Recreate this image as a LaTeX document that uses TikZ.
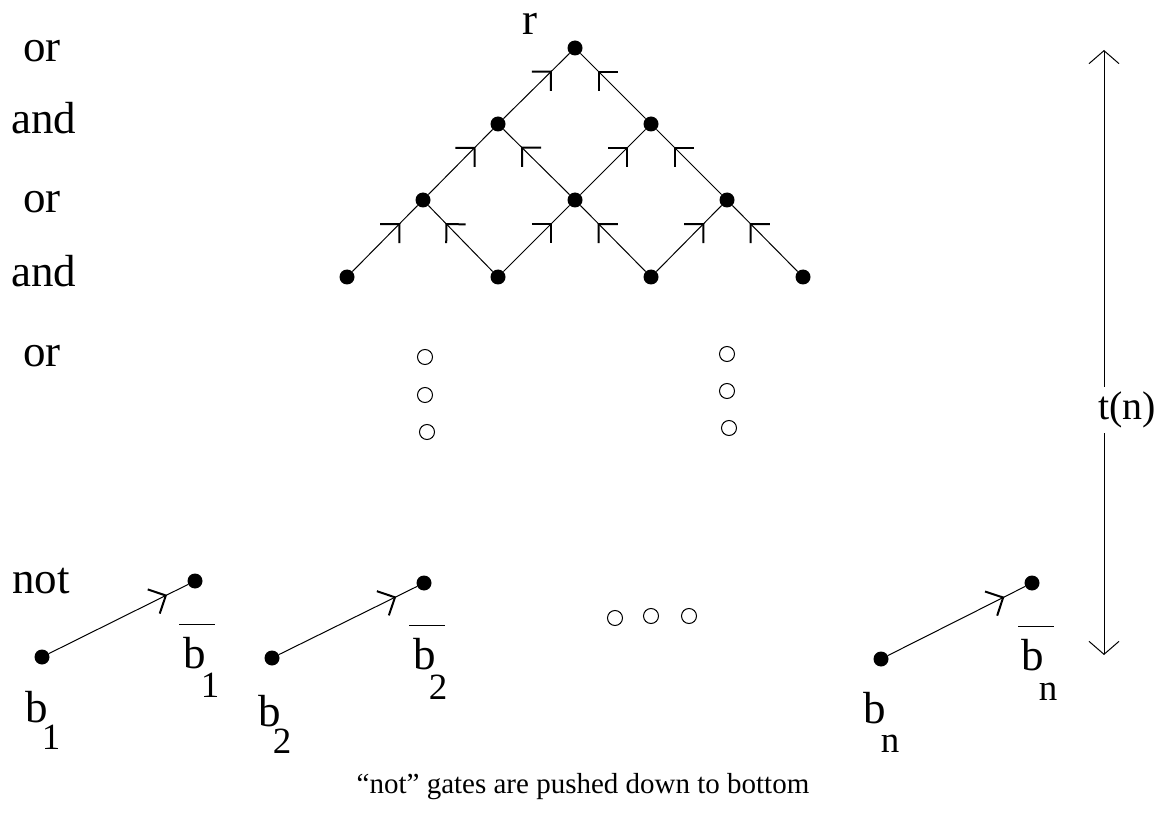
\documentclass[tikz,border=0pt]{standalone}
\usepackage{fontspec}
\setmainfont{Liberation Serif}
\usetikzlibrary{arrows.meta,decorations.markings}

\begin{document}
\begin{tikzpicture}[x=1pt,y=-1pt,
  gate/.style={circle,fill=black,inner sep=0pt,minimum size=15pt},
  ellip/.style={circle,draw=black,line width=1pt,inner sep=0pt,minimum size=15pt},
  lbl/.style={font=\fontsize{45}{50}\selectfont,inner sep=0pt,anchor=base},
  sub/.style={font=\fontsize{37}{42}\selectfont,inner sep=0pt,anchor=base},
  captext/.style={font=\fontsize{29}{34}\selectfont,inner sep=0pt,anchor=base},
  wire/.style={line width=1pt,postaction={decorate},
    decoration={markings,mark=at position #1 with
      {\draw[line width=2pt,line cap=butt] (-13.5pt,13.5pt) -- (0pt,0pt) -- (-13.5pt,-13.5pt);}}},
  wire/.default=0.72,
  span/.style={line width=1pt,-{Straight Barb[length=13pt,width=30pt,line width=1pt]}}
]
\useasboundingbox (0,0) rectangle (1160,821);

% level labels
\node[lbl] (lor1)  at (42,62)  {or};
\node[lbl] (land1) at (44,134) {and};
\node[lbl] (lor2)  at (42,213) {or};
\node[lbl] (land2) at (44,287) {and};
\node[lbl] (lor3)  at (42,366) {or};
\node[lbl] (lnot)  at (41,593) {not};

% the and/or tree
\node[gate] (r0) at (575,48) {};
\node[lbl] (rlbl) at (530,35) {r};
\node[gate] (a1) at (498,124) {};
\node[gate] (a2) at (651,124) {};
\node[gate] (o1) at (423,200) {};
\node[gate] (o2) at (575,200) {};
\node[gate] (o3) at (727,200) {};
\node[gate] (l1) at (347,277) {};
\node[gate] (l2) at (498,277) {};
\node[gate] (l3) at (651,277) {};
\node[gate] (l4) at (803,277) {};

\draw[wire] (l1) -- (o1);
\draw[wire] (l2) -- (o1);
\draw[wire] (l2) -- (o2);
\draw[wire] (l3) -- (o2);
\draw[wire] (l3) -- (o3);
\draw[wire] (l4) -- (o3);
\draw[wire] (o1) -- (a1);
\draw[wire] (o2) -- (a1);
\draw[wire] (o2) -- (a2);
\draw[wire] (o3) -- (a2);
\draw[wire] (a1) -- (r0);
\draw[wire] (a2) -- (r0);

% vertical ellipses
\node[ellip] (c11) at (425,357) {};
\node[ellip] (c12) at (425,395) {};
\node[ellip] (c13) at (427,432) {};
\node[ellip] (c21) at (727,354) {};
\node[ellip] (c22) at (727,391) {};
\node[ellip] (c23) at (729,428) {};
% horizontal ellipses
\node[ellip] (h1) at (615,618) {};
\node[ellip] (h2) at (651,616) {};
\node[ellip] (h3) at (689,616) {};

% not gates at the bottom
\node[gate] (b1)  at (42,657)  {};
\node[gate] (nb1) at (195,581) {};
\node[gate] (b2)  at (272,658) {};
\node[gate] (nb2) at (424,583) {};
\node[gate] (bn)  at (881,659) {};
\node[gate] (nbn) at (1032,583) {};
\draw[wire=0.84] (b1) -- (nb1);
\draw[wire=0.84] (b2) -- (nb2);
\draw[wire=0.84] (bn) -- (nbn);

% input labels
\node[lbl] (tb1)  at (37,722)  {b};
\node[sub] (sb1)  at (51,749)  {1};
\node[lbl] (tnb1) at (195,668) {b};
\node[sub] (snb1) at (210,697) {1};
\draw[line width=1pt] (179,624) -- (215,624);
\node[lbl] (tb2)  at (270,726) {b};
\node[sub] (sb2)  at (282,753) {2};
\node[lbl] (tnb2) at (425,669) {b};
\node[sub] (snb2) at (438,699) {2};
\draw[line width=1pt] (409,625) -- (445,625);
\node[lbl] (tbn)  at (875,723) {b};
\node[sub] (sbn)  at (890,752) {n};
\node[lbl] (tnbn) at (1033,670) {b};
\node[sub] (snbn) at (1048,700) {n};
\draw[line width=1pt] (1018,626) -- (1054,626);

% depth marker
\coordinate (ttop) at (1104,50);
\coordinate (tbot) at (1104,655);
\node[font=\fontsize{40}{44}\selectfont,inner sep=0pt,minimum height=46pt] (tn) at (1127,410) {t(n)};
\draw[span] (ttop |- tn.north) -- (ttop);
\draw[span] (tbot |- tn.south) -- (tbot);

% caption
\node[captext] (caption) at (583,793) {“not” gates are pushed down to bottom};
\end{tikzpicture}
\end{document}
